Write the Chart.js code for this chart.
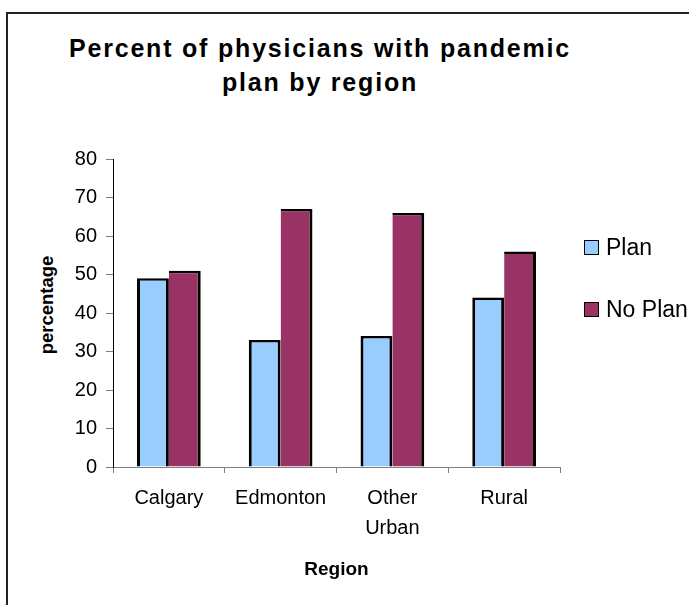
<!DOCTYPE html>
<html lang="en">
<head>
  <meta charset="UTF-8" />
  <title>Percent of physicians with pandemic plan by region</title>
  <script src="https://cdn.jsdelivr.net/npm/chart.js"></script>
  <style>
    html, body { margin: 0; padding: 0; background: #fff; overflow: hidden; width: 689px; height: 605px; }
    body { position: relative; font-family: Arial, 'Liberation Sans', sans-serif; }
    #frame { position: absolute; left: 6px; top: 12px; width: 2000px; height: 2000px;
             border-top: 2px solid #222; border-left: 2px solid #222; }
    #title { position: absolute; left: 0; top: 31px; width: 640px; text-align: center;
             font-weight: bold; font-size: 25px; line-height: 34px; letter-spacing: 1.8px; color: #000; }
    #ytitle { position: absolute; left: 47px; top: 305px; transform: translate(-50%, -50%) rotate(-90deg);
              font-weight: bold; font-size: 18.5px; line-height: 20px; white-space: nowrap; color: #000; }
    #chart { position: absolute; left: 0; top: 0; }
    #legend { position: absolute; left: 584px; top: 234px; font-size: 23px; color: #000; white-space: nowrap; }
    .item { height: 62px; display: flex; align-items: flex-start; }
    .box { width: 13px; height: 13px; border: 1.5px solid #000; margin-top: 6px; margin-right: 7px; flex: none; }
  </style>
</head>
<body>
  <div id="frame"></div>
  <div id="title">Percent of physicians with pandemic<br>plan by region</div>
  <div id="ytitle">percentage</div>
  <canvas id="chart" width="689" height="605"></canvas>
  <div id="legend"></div>

  <script>
    const regions = ['Calgary', 'Edmonton', ['Other', 'Urban'], 'Rural'];
    const planValues = [49, 33, 34, 44];
    const noPlanValues = [51, 67, 66, 56];
    const seriesNames = ['Plan', 'No Plan'];
    const seriesColors = ['#99CCFF', '#993366'];
    const yTicks = [0, 10, 20, 30, 40, 50, 60, 70, 80];

    const ctx = document.getElementById('chart').getContext('2d');
    const chart = new Chart(ctx, {
      type: 'bar',
      data: {
        labels: regions,
        datasets: [{
          label: seriesNames[0],
          data: planValues,
          backgroundColor: seriesColors[0],
          borderColor: '#000',
          borderWidth: { top: 2.5, left: 3, right: 3, bottom: 0 },
          borderSkipped: false,
          barPercentage: 1,
          categoryPercentage: 0.57
        }, {
          label: seriesNames[1],
          data: noPlanValues,
          backgroundColor: seriesColors[1],
          borderColor: '#000',
          borderWidth: { top: 2.5, left: 0, right: 3, bottom: 0 },
          borderSkipped: false,
          barPercentage: 1,
          categoryPercentage: 0.57
        }]
      },
      options: {
        responsive: false,
        animation: false,
        layout: { padding: { left: 38, right: 129, top: 159, bottom: 23.5 } },
        plugins: {
          legend: { display: false },
          title: { display: false },
          tooltip: { enabled: false }
        },
        scales: {
          x: {
            afterFit: (s) => { s.height = 114.5; },
            border: { color: '#808080', width: 1 },
            grid: { drawOnChartArea: false, drawTicks: true, tickLength: 6, color: '#808080' },
            ticks: { color: '#000', padding: 10, font: { family: 'Arial', size: 20, lineHeight: 1.5 }, maxRotation: 0 },
            title: { display: true, text: 'Region', color: '#000', padding: 0,
                     font: { family: 'Arial', size: 19, weight: 'bold', lineHeight: 1.2 } }
          },
          y: {
            min: yTicks[0],
            max: yTicks[yTicks.length - 1],
            afterFit: (s) => { s.width = 75; },
            afterBuildTicks: (s) => { s.ticks = yTicks.map(v => ({ value: v })); },
            border: { color: '#000', width: 1 },
            grid: { drawOnChartArea: false, drawTicks: true, tickLength: 7, color: '#808080' },
            ticks: { color: '#000', padding: 9, font: { family: 'Arial', size: 20 } }
          }
        }
      }
    });

    // legend on the right, runs off the edge like the original
    const legend = document.getElementById('legend');
    chart.data.datasets.forEach((ds) => {
      const item = document.createElement('div');
      item.className = 'item';
      const box = document.createElement('span');
      box.className = 'box';
      box.style.background = ds.backgroundColor;
      const txt = document.createElement('span');
      txt.textContent = ds.label;
      item.appendChild(box);
      item.appendChild(txt);
      legend.appendChild(item);
    });
  </script>
</body>
</html>
